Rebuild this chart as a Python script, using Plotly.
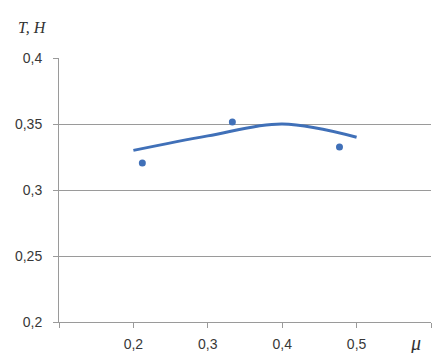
import plotly.graph_objects as go

# Fitted (smoothed) line
line_mu = [0.2, 0.3, 0.4, 0.5]
line_T = [0.33, 0.341, 0.35, 0.34]

# Measured points
pts_mu = [0.212, 0.333, 0.477]
pts_T = [0.3205, 0.3515, 0.3325]

x_tickvals = [0.1, 0.2, 0.3, 0.4, 0.5, 0.6]
x_ticktext = ["", "0,2", "0,3", "0,4", "0,5", ""]
y_tickvals = [0.2, 0.25, 0.3, 0.35, 0.4]
y_ticktext = ["0,2", "0,25", "0,3", "0,35", "0,4"]

blue = "#4070b8"
grid = "#9a9a9a"

fig = go.Figure()
fig.add_trace(go.Scatter(x=line_mu, y=line_T, mode="lines",
                         line=dict(color=blue, width=3, shape="spline", smoothing=1),
                         showlegend=False, hoverinfo="skip"))
fig.add_trace(go.Scatter(x=pts_mu, y=pts_T, mode="markers",
                         marker=dict(color=blue, size=7, symbol="circle"),
                         showlegend=False))

fig.update_layout(
    width=431, height=345,
    margin=dict(l=51, r=8, t=50, b=31),
    paper_bgcolor="white", plot_bgcolor="white",
    font=dict(family="Liberation Sans", size=14, color="#383838"),
    xaxis=dict(range=[0.1, 0.6], tickvals=x_tickvals, ticktext=x_ticktext,
               showgrid=False, zeroline=False, showline=True, linecolor=grid, linewidth=1,
               ticks="outside", ticklen=5, tickcolor=grid, tickwidth=1,
               ticklabelstandoff=4, automargin=False),
    yaxis=dict(range=[0.2, 0.4], tickvals=y_tickvals, ticktext=y_ticktext,
               showgrid=True, gridcolor=grid, gridwidth=1, zeroline=False,
               showline=True, linecolor=grid, linewidth=1,
               ticks="outside", ticklen=5, tickcolor=grid, tickwidth=1,
               ticklabelstandoff=8, automargin=False),
    annotations=[
        dict(text="<i>T, H</i>", xref="paper", yref="paper", x=-0.116, y=1.114,
             xanchor="left", yanchor="middle", showarrow=False,
             font=dict(family="Liberation Serif", size=16, color="#333333")),
        dict(text="<i>μ</i>", xref="paper", yref="paper", x=0.957, y=-0.08,
             xanchor="center", yanchor="middle", showarrow=False,
             font=dict(family="Liberation Serif", size=20, color="#333333")),
    ],
)

fig.write_html("out.html")
